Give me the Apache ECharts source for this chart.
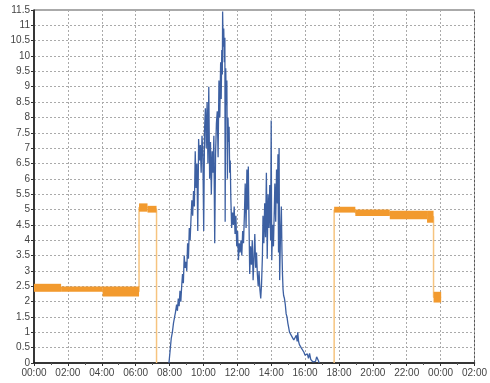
<!DOCTYPE html>
<html>
<head>
<meta charset="utf-8">
<script src="https://cdn.jsdelivr.net/npm/echarts@6/dist/echarts.min.js"></script>
<style>
	html, body { margin: 0; padding: 0; background: #fff; }
	#chart { width: 490px; height: 383px; }
</style>
</head>
<body>
<div id="chart"></div>
<script>
// blue trace (time of day, value)
const blueTimes = [
	'07:58','08:02','08:06','08:10','08:14','08:18','08:21','08:25','08:28','08:31','08:34','08:37','08:40','08:43','08:46','08:49',
	'08:52','08:55','08:58','09:01','09:04','09:07','09:10','09:13','09:16','09:19','09:22','09:25','09:28','09:31','09:34','09:37',
	'09:40','09:43','09:46','09:49','09:52','09:55','09:58','10:01','10:04','10:07','10:10','10:13','10:16','10:19','10:22','10:25',
	'10:28','10:31','10:34','10:37','10:40','10:43','10:46','10:49','10:52','10:55','10:58','11:01','11:03','11:05','11:07','11:08',
	'11:10','11:12','11:14','11:16','11:17','11:19','11:21','11:23','11:25','11:27','11:29','11:31','11:33','11:35','11:37','11:40',
	'11:43','11:46','11:49','11:52','11:55','11:58','12:01','12:04','12:07','12:10','12:13','12:16','12:19','12:22','12:25','12:28',
	'12:31','12:34','12:37','12:39','12:42','12:44','12:47','12:50','12:53','12:56','12:59','13:02','13:05','13:08','13:11','13:14',
	'13:17','13:20','13:23','13:26','13:29','13:31','13:34','13:37','13:40','13:43','13:46','13:49','13:52','13:55','13:58','14:00',
	'14:02','14:05','14:08','14:11','14:13','14:16','14:19','14:22','14:24','14:26','14:28','14:30','14:33','14:36','14:38','14:40',
	'14:42','14:44','14:47','14:50','14:53','14:56','14:59','15:02','15:05','15:08','15:11','15:14','15:17','15:20','15:23','15:26',
	'15:29','15:32','15:34','15:37','15:40','15:43','15:46','15:49','15:52','15:56','16:00','16:04','16:08','16:12','16:16','16:20',
	'16:24','16:27','16:32','16:37','16:41','16:44','16:47','16:50'
];
const blueValues = [
	0, 0.4, 0.8, 1.0, 1.3, 1.5, 1.65, 1.9, 1.7, 2.1, 1.85, 2.35, 2.0, 2.5, 2.9, 2.6,
	3.5, 3.1, 3.3, 3.0, 3.9, 3.4, 4.4, 4.0, 4.7, 5.3, 4.8, 5.6, 5.1, 6.9, 5.7, 6.5,
	4.3, 7.3, 6.6, 7.1, 6.2, 7.4, 6.8, 4.3, 7.6, 8.3, 7.0, 8.5, 6.5, 9.0, 6.0, 7.2,
	5.5, 6.9, 6.2, 7.4, 3.9, 6.8, 7.8, 8.2, 6.7, 9.2, 8.0, 9.8, 8.6, 10.2, 9.4, 11.45,
	10.3, 10.9, 9.8, 10.6, 4.6, 9.6, 8.4, 9.2, 6.0, 8.0, 7.2, 7.7, 6.2, 6.6, 5.4, 4.4,
	4.9, 4.5, 5.1, 4.2, 4.8, 3.8, 4.3, 3.35, 3.9, 3.6, 4.0, 3.5, 4.3, 3.9, 4.8, 5.85,
	4.4, 6.3, 5.0, 6.4, 4.2, 2.9, 3.8, 3.2, 4.0, 2.7, 3.4, 4.2, 3.1, 3.6, 2.9, 2.5,
	3.0, 2.4, 2.1, 2.6, 3.5, 4.8, 3.9, 5.2, 4.1, 6.2, 3.4, 5.5, 4.4, 5.8, 4.0, 7.9,
	3.35, 4.5, 3.8, 5.0, 5.85, 4.6, 6.3, 5.2, 6.8, 3.6, 7.0, 2.7, 4.2, 5.1, 3.7, 2.9,
	2.4, 2.2, 2.1, 1.9, 1.6, 1.5, 1.3, 1.15, 1.0, 0.95, 1.0, 0.85, 0.8, 0.75, 0.7, 0.8,
	0.9, 0.7, 1.0, 0.7, 0.6, 0.55, 0.5, 0.55, 0.45, 0.35, 0.25, 0.2, 0.3, 0.15, 0.31, 0.12,
	0.08, 0.04, 0.1, 0.05, 0.2, 0.23, 0.08, 0
];

// orange trace: segments start at these times, end at the next one
const orangeStarts = ['00:00','01:36','04:03','06:12','06:42','07:14','17:43','18:58','21:00','23:12','23:35'];
const orangeEnd = '24:02';
const orangeLow  = [2.32, 2.32, 2.17, 4.93, 4.90, 0, 4.90, 4.79, 4.68, 4.57, 1.97];
const orangeHigh = [2.58, 2.49, 2.49, 5.20, 5.12, 0, 5.09, 5.00, 4.96, 4.96, 2.32];

function toHours(s) {
	const p = s.split(':');
	return +p[0] + (+p[1]) / 60;
}
function hourLabel(h) {
	const hh = Math.round(h) % 24;
	return (hh < 10 ? '0' : '') + hh + ':00';
}

const blueData = blueTimes.map((t, i) => [toHours(t), blueValues[i]]);

const bands = [];
const thin = [];
orangeStarts.forEach((t, i) => {
	const a = toHours(t);
	const b = toHours(i + 1 < orangeStarts.length ? orangeStarts[i + 1] : orangeEnd);
	if (orangeHigh[i] === 0) {
		thin.push([a, 0], null, [b, 0]);
		return;
	}
	const mid = (orangeLow[i] + orangeHigh[i]) / 2;
	thin.push([a, mid], [b, mid]);
	bands.push([a, b, orangeLow[i], orangeHigh[i]]);
});

const font = '"Liberation Sans Narrow", "Liberation Sans", Arial, sans-serif';
const chart = echarts.init(document.getElementById('chart'));
chart.setOption({
	animation: false,
	grid: {
		left: 34, right: 12, top: 10, bottom: 20,
		show: true, borderColor: '#555', borderWidth: 1
	},
	xAxis: {
		type: 'value',
		min: 0, max: 26, interval: 2,
		axisLine: { lineStyle: { color: '#111', width: 1.5 } },
		axisTick: { show: true, length: 3, lineStyle: { color: '#333' } },
		minorTick: { show: true, splitNumber: 2, length: 2, lineStyle: { color: '#555' } },
		splitLine: { show: true, lineStyle: { color: '#aaa', type: [2, 2] } },
		axisLabel: { formatter: hourLabel, color: '#444', fontSize: 10, fontFamily: font, margin: 5 }
	},
	yAxis: {
		type: 'value',
		min: 0, max: 11.5, interval: 0.5,
		axisLine: { show: true, lineStyle: { color: '#111', width: 1.5 } },
		axisTick: { show: true, length: 3, lineStyle: { color: '#333' } },
		splitLine: { show: true, lineStyle: { color: '#aaa', type: [2, 2] } },
		axisLabel: { color: '#444', fontSize: 10, fontFamily: font, margin: 4 }
	},
	series: [
		{
			type: 'line',
			data: thin,
			showSymbol: false,
			connectNulls: false,
			lineStyle: { color: '#f6c47f', width: 1.5 },
			z: 2
		},
		{
			type: 'custom',
			data: bands,
			renderItem: function (params, api) {
				const p1 = api.coord([api.value(0), api.value(3)]);
				const p2 = api.coord([api.value(1), api.value(2)]);
				return {
					type: 'rect',
					shape: { x: p1[0], y: p1[1], width: p2[0] - p1[0], height: p2[1] - p1[1] },
					style: { fill: '#f29a2e' }
				};
			},
			z: 3
		},
		{
			type: 'line',
			data: blueData,
			showSymbol: false,
			lineStyle: { color: '#3d60a2', width: 1.3 },
			z: 4
		}
	]
});
</script>
</body>
</html>
